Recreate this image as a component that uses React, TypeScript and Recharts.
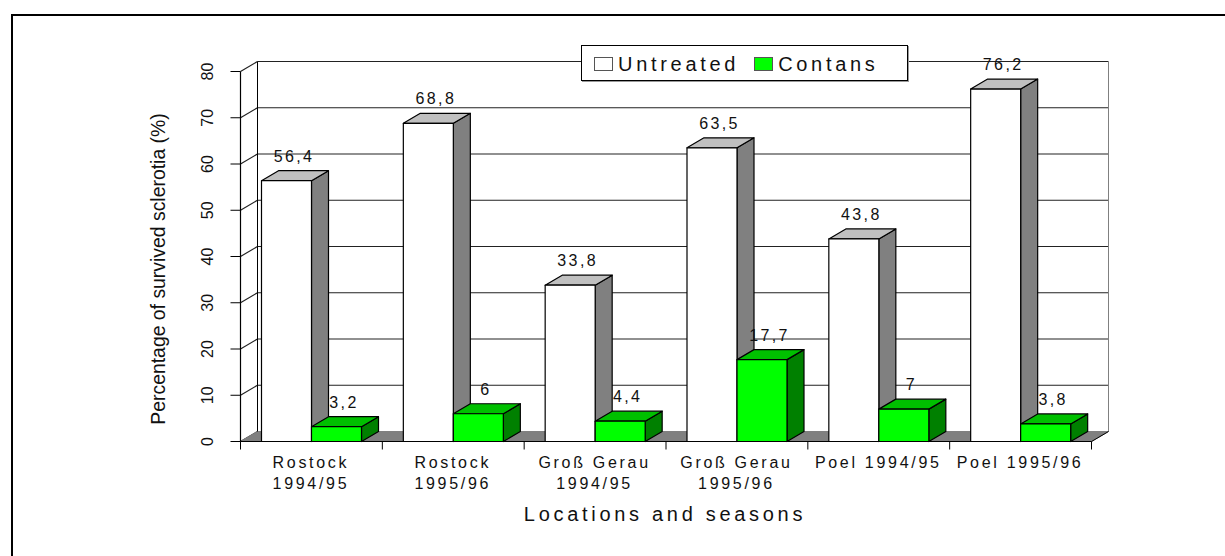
import {
  Bar,
  BarChart,
  CartesianGrid,
  Label,
  LabelList,
  Legend,
  ReferenceArea,
  XAxis,
  YAxis,
} from "recharts";

const CATEGORY_LINES = [
  ["Rostock", "1994/95"],
  ["Rostock", "1995/96"],
  ["Groß Gerau", "1994/95"],
  ["Groß Gerau", "1995/96"],
  ["Poel 1994/95"],
  ["Poel 1995/96"],
];
const UNTREATED = [56.4, 68.8, 33.8, 63.5, 43.8, 76.2];
const CONTANS = [3.2, 6, 4.4, 17.7, 7, 3.8];
const Y_TICKS = [0, 10, 20, 30, 40, 50, 60, 70, 80];
const SERIES_ORDER = ["Untreated", "Contans"];

const chartData = CATEGORY_LINES.map((lines, i) => ({
  category: lines.join(" "),
  untreated: UNTREATED[i],
  contans: CONTANS[i],
}));

const FONT = "'Liberation Sans', Arial, sans-serif";
const DX = 17;
const DY = 10;
const PLOT_LEFT = 240.5;
const PLOT_WIDTH = 851;
const HALF_BAND = PLOT_WIDTH / CATEGORY_LINES.length / 2;

function Box3D({ x, y, width, height, front, top, side }: any) {
  const r = x + width;
  const b = y + height;
  return (
    <g stroke="#000" strokeWidth={1.2} strokeLinejoin="round">
      <polygon
        points={`${r},${y} ${r + DX},${y - DY} ${r + DX},${b - DY} ${r},${b}`}
        fill={side}
      />
      <polygon
        points={`${x},${y} ${x + DX},${y - DY} ${r + DX},${y - DY} ${r},${y}`}
        fill={top}
      />
      <rect x={x} y={y} width={width} height={height} fill={front} />
    </g>
  );
}

// back wall and floor, sits behind the grid lines
function Walls({ x, y, width, height }: any) {
  const b = y + height;
  const r = x + width;
  return (
    <g>
      <polygon
        points={`${x},${b} ${x + DX},${b - DY} ${r + DX},${b - DY} ${r},${b}`}
        fill="#808080"
        stroke="#808080"
      />
      <line x1={x + DX} y1={y - DY} x2={x + DX} y2={b - DY} stroke="#000" />
      <line x1={r + DX} y1={y - DY} x2={r + DX} y2={b - DY} stroke="#808080" />
      <line x1={r} y1={b} x2={r + DX} y2={b - DY} stroke="#000" />
    </g>
  );
}

function GridLine({ x1, x2, y1 }: any) {
  return (
    <g stroke="#222" strokeWidth={1.2}>
      <line x1={x1} y1={y1} x2={x1 + DX} y2={y1 - DY} />
      <line x1={x1 + DX} y1={y1 - DY} x2={x2 + DX} y2={y1 - DY} />
    </g>
  );
}

function CategoryTick({ x, y, index }: any) {
  const lines = CATEGORY_LINES[index];
  const left = x - HALF_BAND;
  const isLast = index === CATEGORY_LINES.length - 1;
  return (
    <g>
      <line x1={left} y1={y} x2={left} y2={y + 8} stroke="#000" />
      {isLast && (
        <line x1={x + HALF_BAND} y1={y} x2={x + HALF_BAND} y2={y + 8} stroke="#000" />
      )}
      {lines.map((line: string, i: number) => (
        <text
          key={line}
          x={x - 0.5}
          y={y + 26.5 + i * 21}
          textAnchor="middle"
          fontFamily={FONT}
          fontSize={16}
          letterSpacing={2.7}
          fill="#111"
        >
          {line}
        </text>
      ))}
    </g>
  );
}

function ValueTick({ x, y, payload }: any) {
  const tx = x - 15.5;
  return (
    <text
      x={tx}
      y={y}
      transform={`rotate(-90 ${tx} ${y})`}
      textAnchor="middle"
      fontFamily={FONT}
      fontSize={16}
      fill="#111"
    >
      {payload.value}
    </text>
  );
}

function ValueLabel({ x, y, width, value }: any) {
  return (
    <text
      x={x + width / 2 + 7.5}
      y={y - DY - 9}
      textAnchor="middle"
      fontFamily={FONT}
      fontSize={16}
      letterSpacing={2.4}
      fill="#111"
    >
      {String(value).replace(".", ",")}
    </text>
  );
}

function LegendBox({ payload }: any) {
  return (
    <div
      style={{
        boxSizing: "border-box",
        width: 327,
        height: 36,
        background: "#fff",
        border: "1px solid #000",
        boxShadow: "1px 1px 0 #999",
        display: "flex",
        alignItems: "center",
        paddingLeft: 12,
        fontFamily: FONT,
        fontSize: 20,
        letterSpacing: 3.7,
        color: "#111",
      }}
    >
      {payload.map((entry: any, i: number) => (
        <span
          key={entry.value}
          style={{ display: "flex", alignItems: "center", marginLeft: i ? 15 : 0 }}
        >
          <span
            style={{
              boxSizing: "border-box",
              width: 19,
              height: 14,
              marginRight: 5,
              position: "relative",
              top: 1,
              background: entry.color,
              border: "1px solid #555",
            }}
          />
          <span style={{ position: "relative", top: 1 }}>{entry.value}</span>
        </span>
      ))}
    </div>
  );
}

export default function App() {
  return (
    <div
      style={{
        position: "absolute",
        left: 0,
        top: 0,
        width: 1225,
        height: 556,
        overflow: "hidden",
        background: "#fff",
      }}
    >
      <div
        style={{
          position: "absolute",
          left: 11,
          top: 14,
          width: 1230,
          height: 560,
          borderLeft: "2px solid #000",
          borderTop: "2px solid #000",
        }}
      />
      <BarChart
        width={1225}
        height={556}
        data={chartData}
        barGap={0}
        barSize={50}
        margin={{ top: 71.5, right: 1225 - PLOT_LEFT - PLOT_WIDTH, bottom: 54.5, left: PLOT_LEFT - 60 }}
      >
        <ReferenceArea y1={0} y2={80} shape={<Walls />} ifOverflow="visible" />
        <CartesianGrid
          vertical={false}
          horizontal={(props: any) => <GridLine key={props.key} {...props} />}
        />
        <XAxis
          dataKey="category"
          height={60}
          interval={0}
          axisLine={{ stroke: "#000", strokeWidth: 1.2 }}
          tickLine={false}
          tickSize={0}
          tickMargin={0}
          tick={<CategoryTick />}
        >
          <Label
            content={() => (
              <text
                x={665}
                y={521}
                textAnchor="middle"
                fontFamily={FONT}
                fontSize={20}
                letterSpacing={3.7}
                fill="#111"
              >
                Locations and seasons
              </text>
            )}
          />
        </XAxis>
        <YAxis
          width={60}
          domain={[0, 80]}
          ticks={Y_TICKS}
          interval={0}
          axisLine={{ stroke: "#000", strokeWidth: 1.2 }}
          tickLine={{ stroke: "#000" }}
          tickSize={10}
          tick={<ValueTick />}
        >
          <Label
            content={() => (
              <text
                x={164.5}
                y={269}
                transform="rotate(-90 164.5 269)"
                textAnchor="middle"
                fontFamily={FONT}
                fontSize={19.4}
                fill="#111"
              >
                Percentage of survived sclerotia (%)
              </text>
            )}
          />
        </YAxis>
        <Legend
          layout="horizontal"
          verticalAlign="middle"
          align="center"
          itemSorter={(item: any) => SERIES_ORDER.indexOf(item.value)}
          content={<LegendBox />}
          wrapperStyle={{ left: 581, top: 45, width: 327, height: 36 }}
        />
        <Bar
          dataKey="untreated"
          name="Untreated"
          fill="#ffffff"
          isAnimationActive={false}
          shape={<Box3D front="#ffffff" top="#c0c0c0" side="#808080" />}
        >
          <LabelList dataKey="untreated" content={<ValueLabel />} />
        </Bar>
        <Bar
          dataKey="contans"
          name="Contans"
          fill="#00ff00"
          isAnimationActive={false}
          shape={<Box3D front="#00ff00" top="#00c000" side="#008000" />}
        >
          <LabelList dataKey="contans" content={<ValueLabel />} />
        </Bar>
      </BarChart>
    </div>
  );
}
